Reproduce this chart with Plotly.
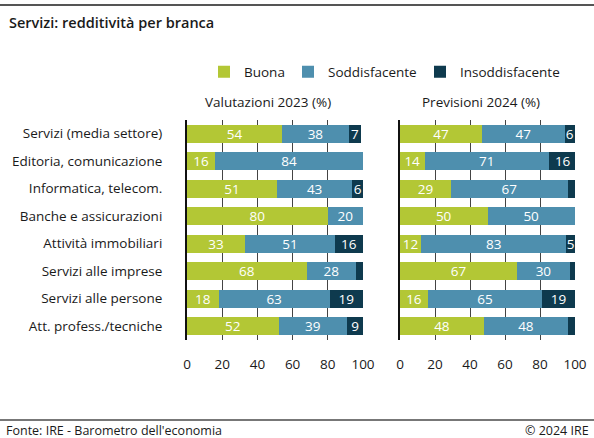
import plotly.graph_objects as go

categories = ["Servizi (media settore)", "Editoria, comunicazione", "Informatica, telecom.",
              "Banche e assicurazioni", "Attività immobiliari", "Servizi alle imprese",
              "Servizi alle persone", "Att. profess./tecniche"]
series_names = ["Buona", "Soddisfacente", "Insoddisfacente"]
val2023_buona = [54, 16, 51, 80, 33, 68, 18, 52]
val2023_sodd = [38, 84, 43, 20, 51, 28, 63, 39]
val2023_insodd = [7, 0, 6, 0, 16, 4, 19, 9]
prev2024_buona = [47, 14, 29, 50, 12, 67, 16, 48]
prev2024_sodd = [47, 71, 67, 50, 83, 30, 65, 48]
prev2024_insodd = [6, 16, 4, 0, 5, 3, 19, 4]
x_ticks = [0, 20, 40, 60, 80, 100]
panel_titles = ["Valutazioni 2023 (%)", "Previsioni 2024 (%)"]

colors = ["#b3c735", "#4e8fae", "#0e3a4e"]
FONT = "Open Sans, Roboto, Liberation Sans, sans-serif"
TXT = "#1a1a1a"
FS = 13.5

W, H = 594, 438
L, R, T, B = 187, 19, 120, 98
PW, PH = W - L - R, H - T - B


def px(x):
    return (x - L) / PW


def py(y):
    return 1 - (y - T) / PH


fig = go.Figure()
panels = [
    ("x", "y", [val2023_buona, val2023_sodd, val2023_insodd]),
    ("x2", "y2", [prev2024_buona, prev2024_sodd, prev2024_insodd]),
]
legend_ids = ["legend", "legend2", "legend3"]
for p, (xa, ya, data) in enumerate(panels):
    for i, (name, vals) in enumerate(zip(series_names, data)):
        labels = [str(v) if v >= 5 else "" for v in vals]
        fig.add_trace(go.Bar(
            x=vals, y=categories, orientation="h", name=name,
            marker=dict(color=colors[i], line=dict(width=0)),
            text=labels, textposition="inside", insidetextanchor="middle",
            textfont=dict(color="white", size=FS, family=FONT),
            textangle=0,
            xaxis=xa, yaxis=ya, showlegend=(p == 0), legend=legend_ids[i],
            hoverinfo="skip",
        ))

axis_common = dict(range=[0, 100], tickvals=x_ticks, showgrid=True, gridcolor="#444444",
                   gridwidth=1, zeroline=False, showline=False, automargin=False,
                   tickfont=dict(size=FS, family=FONT, color=TXT), ticks="",
                   ticklabelstandoff=14, fixedrange=True)
yaxis_common = dict(categoryorder="array", categoryarray=categories[::-1], showgrid=False,
                    showline=True, linecolor="#111111", linewidth=2, ticks="", zeroline=False,
                    automargin=False, fixedrange=True)

legend_x = [204, 288, 420]
legends = {}
for k, lid in enumerate(legend_ids):
    legends[lid] = dict(x=legend_x[k] / W, y=1 - 72 / H, xref="container", yref="container",
                        xanchor="left", yanchor="middle", orientation="h",
                        font=dict(size=FS, family=FONT, color=TXT),
                        bgcolor="rgba(0,0,0,0)", itemwidth=30, tracegroupgap=0)

fig.update_layout(
    width=W, height=H,
    margin=dict(l=L, r=R, t=T, b=B, autoexpand=False),
    paper_bgcolor="white", plot_bgcolor="white",
    barmode="stack", bargap=0.34,
    uniformtext=dict(minsize=FS, mode="show"),
    font=dict(family=FONT, size=FS, color=TXT),
    xaxis=dict(domain=[0, px(363)], **axis_common),
    xaxis2=dict(domain=[px(400), 1.0], **axis_common),
    yaxis=dict(anchor="x", tickfont=dict(size=FS, family=FONT, color=TXT),
               ticklabelstandoff=20, **yaxis_common),
    yaxis2=dict(anchor="x2", showticklabels=False, **yaxis_common),
    **legends,
)

fig.add_annotation(text="Servizi: redditività per branca", xref="paper", yref="paper",
                   x=px(7), y=py(22), xanchor="left", yanchor="middle",
                   showarrow=False, font=dict(size=14.5, family=FONT, color=TXT, weight=600))
fig.add_annotation(text=panel_titles[0], xref="paper", yref="paper",
                   x=px(268), y=py(102), xanchor="center", yanchor="middle",
                   showarrow=False, font=dict(size=FS, family=FONT, color=TXT))
fig.add_annotation(text=panel_titles[1], xref="paper", yref="paper",
                   x=px(481), y=py(102), xanchor="center", yanchor="middle",
                   showarrow=False, font=dict(size=FS, family=FONT, color=TXT))
fig.add_annotation(text="Fonte: IRE - Barometro dell'economia", xref="paper", yref="paper",
                   x=px(4), y=py(430), xanchor="left", yanchor="middle",
                   showarrow=False, font=dict(size=12.5, family=FONT, color=TXT))
fig.add_annotation(text="© 2024 IRE", xref="paper", yref="paper",
                   x=px(591), y=py(430), xanchor="right", yanchor="middle",
                   showarrow=False, font=dict(size=12.5, family=FONT, color=TXT))
# rules
fig.add_shape(type="line", xref="paper", yref="paper", x0=px(0), x1=px(W),
              y0=py(5), y1=py(5), line=dict(color="#555555", width=2))
fig.add_shape(type="line", xref="paper", yref="paper", x0=px(0), x1=px(W),
              y0=py(420), y1=py(420), line=dict(color="#777777", width=2))

fig.write_html("out.html", config={"displayModeBar": False},
               post_script="document.body.style.margin='0px';")
